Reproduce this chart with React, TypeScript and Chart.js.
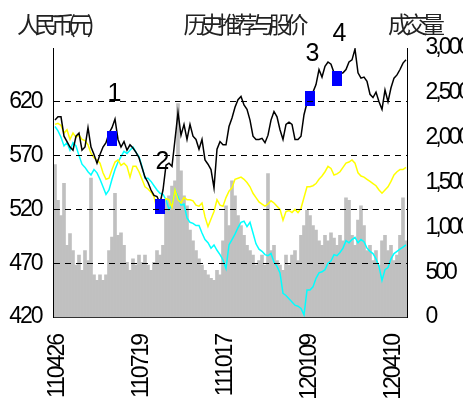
import { useEffect, useRef } from 'react';
import { Chart, registerables } from 'chart.js';

Chart.register(...registerables);

const TITLE_LEFT = '人民币(元)';
const TITLE_MID = '历史推荐与股价';
const TITLE_RIGHT = '成交量';

const TICK_LABELS = ['110426', '110719', '111017', '120109', '120410'];
const TICK_INDEX = [1, 29, 57, 85, 113];

const PRICE = [
  603, 606, 606, 588, 583, 578, 575, 588, 591, 575,
  578, 596, 578, 571, 563, 571, 578, 582, 591, 596,
  604, 585, 578, 583, 575, 580, 577, 573, 568, 559,
  550, 545, 538, 533, 532, 526, 538, 561, 563, 560,
  585, 610, 589, 599, 585, 599, 588, 585, 576, 585,
  566, 562, 557, 540, 576, 583, 580, 580, 597, 605,
  615, 622, 625, 617, 613, 603, 588, 585, 585, 586,
  582, 589, 603, 611, 606, 594, 585, 599, 601, 599,
  585, 585, 588, 608, 619, 625, 629, 636, 650, 643,
  653, 657, 655, 647, 645, 646, 647, 650, 657, 659,
  669, 647, 642, 643, 639, 627, 624, 629, 620, 613,
  631, 620, 633, 642, 645, 650, 656, 659,
];

const INDEX_YELLOW = [
  599, 600, 598, 591, 594, 585, 591, 587, 589, 585,
  584, 580, 572, 568, 566, 563, 554, 548, 549, 557,
  564, 566, 561, 563, 560, 550, 560, 560, 555, 548,
  541, 539, 536, 532, 520, 521, 526, 530, 529, 522,
  538, 529, 526, 531, 529, 529, 528, 524, 523, 526,
  513, 504, 511, 518, 529, 524, 523, 531, 537, 540,
  548, 549, 550, 548, 545, 541, 535, 531, 527, 525,
  523, 525, 528, 526, 523, 520, 510, 518, 519, 517,
  520, 517, 521, 531, 541, 541, 542, 544, 548, 551,
  555, 560, 558, 552, 553, 555, 559, 563, 564, 566,
  563, 554, 551, 550, 548, 546, 544, 542, 538, 535,
  538, 541, 546, 552, 555, 557, 557, 559,
];

const INDEX_CYAN = [
  597, 593, 587, 579, 582, 575, 582, 579, 570, 562,
  559, 555, 552, 557, 554, 548, 541, 534, 538, 548,
  557, 564, 569, 574, 572, 575, 578, 573, 569, 560,
  549, 549, 546, 542, 538, 535, 534, 529, 520, 524,
  538, 532, 524, 525, 512, 508, 507, 505, 505, 498,
  492, 489, 484, 487, 482, 478, 473, 465, 487, 492,
  497, 503, 508, 509, 504, 508, 498, 488, 483, 481,
  478, 477, 479, 471, 467, 461, 442, 440, 437, 434,
  431, 430, 428, 422, 445, 445, 448, 456, 461, 462,
  464, 470, 472, 478, 477, 480, 484, 491, 489, 492,
  494, 489, 492, 490, 484, 481, 479, 474, 467, 454,
  464, 466, 474, 479, 481, 483, 485, 487,
];

const VOLUME = [
  1700, 1300, 1130, 1490, 800, 930, 740, 580, 690, 520,
  740, 630, 1550, 470, 410, 470, 410, 470, 740, 890,
  1380, 910, 940, 800, 610, 520, 650, 580, 690, 610,
  690, 580, 520, 610, 740, 690, 800, 1300, 1350, 1460,
  1520, 2380, 1630, 1350, 1240, 970, 850, 740, 650, 580,
  520, 470, 430, 410, 520, 470, 850, 1240, 1020, 1520,
  1350, 1130, 1020, 910, 800, 740, 690, 580, 630, 690,
  580, 1600, 740, 800, 630, 580, 520, 690, 580, 690,
  740, 630, 910, 1020, 1190, 1130, 1020, 970, 850, 800,
  910, 850, 940, 880, 800, 910, 850, 1330, 1300, 910,
  800, 1080, 1240, 1020, 740, 800, 630, 740, 580, 850,
  910, 740, 800, 630, 690, 910, 1330, 850,
];

const REC_NUM = ['1', '2', '3', '4'];
const REC_INDEX = [19, 35, 85, 94];
const REC_PRICE = [586, 523, 623, 642];

const GRID_VALUES = [470, 520, 570, 620];

const CATEGORIES = PRICE.map((_, i) => {
  const k = TICK_INDEX.indexOf(i);
  return k >= 0 ? TICK_LABELS[k] : '';
});

const MARKERS = PRICE.map((_, i) => {
  const k = REC_INDEX.indexOf(i);
  return k >= 0 ? REC_PRICE[k] : null;
});

const TICK_FONT = { family: 'Liberation Sans', size: 23 };

export default function App() {
  const ref = useRef<HTMLCanvasElement | null>(null);

  useEffect(() => {
    if (!ref.current) return;
    const marker = document.createElement('canvas');
    marker.width = 10;
    marker.height = 15;
    const mctx = marker.getContext('2d');
    if (mctx) {
      mctx.fillStyle = '#0000ff';
      mctx.fillRect(0, 0, 10, 15);
    }

    const textPlugin = {
      id: 'texts',
      beforeDraw(chart: any) {
        // right-axis labels (drawn before datasets) get tighter spacing
        chart.ctx.letterSpacing = '-3px';
      },
      afterDatasetsDraw(chart: any) {
        // left and bottom labels are drawn after datasets
        chart.ctx.letterSpacing = '-2px';
      },
      afterDraw(chart: any) {
        const ctx = chart.ctx;
        ctx.save();
        ctx.letterSpacing = '0px';
        ctx.fillStyle = '#000';
        ctx.font = '25px "Liberation Sans"';
        ctx.textAlign = 'center';
        ctx.textBaseline = 'middle';
        const meta = chart.getDatasetMeta(0);
        REC_INDEX.forEach((idx, k) => {
          const p = meta.data[idx];
          if (p) ctx.fillText(REC_NUM[k], p.x + 2.5, p.y - 44);
        });
        ctx.font = '23px "Noto Sans CJK SC"';
        ctx.letterSpacing = '-6px';
        ctx.fillStyle = '#222';
        ctx.textAlign = 'left';
        ctx.fillText(TITLE_LEFT, 17, 24);
        ctx.textAlign = 'center';
        ctx.fillText(TITLE_MID, 243, 24);
        ctx.textAlign = 'left';
        ctx.fillText(TITLE_RIGHT, 388, 24);
        ctx.restore();
      },
    };

    const chart = new Chart(ref.current, {
      type: 'bar',
      data: {
        labels: CATEGORIES,
        datasets: [
          {
            type: 'line',
            data: MARKERS,
            showLine: false,
            pointStyle: marker,
            pointRadius: 7,
            yAxisID: 'y',
            order: 0,
          } as any,
          {
            type: 'line',
            data: PRICE,
            borderColor: '#000000',
            borderWidth: 1.5,
            pointRadius: 0,
            tension: 0,
            yAxisID: 'y',
            order: 1,
          },
          {
            type: 'line',
            data: INDEX_YELLOW,
            borderColor: '#ffff00',
            borderWidth: 1.5,
            pointRadius: 0,
            tension: 0,
            yAxisID: 'y',
            order: 2,
          },
          {
            type: 'line',
            data: INDEX_CYAN,
            borderColor: '#00ffff',
            borderWidth: 1.5,
            pointRadius: 0,
            tension: 0,
            yAxisID: 'y',
            order: 3,
          },
          {
            type: 'bar',
            data: VOLUME,
            backgroundColor: '#c0c0c0',
            borderWidth: 0,
            barPercentage: 1,
            categoryPercentage: 1,
            yAxisID: 'y1',
            order: 4,
          },
        ],
      },
      options: {
        animation: false,
        responsive: true,
        maintainAspectRatio: false,
        layout: { padding: { top: 48, left: 0, right: 0, bottom: 0 } },
        plugins: {
          legend: { display: false },
          tooltip: { enabled: false },
          title: { display: false },
        },
        scales: {
          x: {
            offset: true,
            grid: { display: false, drawTicks: false },
            border: { color: '#333', width: 1, z: 1 },
            ticks: {
              z: 1,
              autoSkip: false,
              minRotation: 90,
              maxRotation: 90,
              padding: 18,
              color: '#000',
              font: TICK_FONT,
            },
            afterFit: (s: any) => {
              s.height = 83;
            },
          },
          y: {
            position: 'left',
            min: 420,
            max: 670,
            ticks: {
              z: 1,
              stepSize: 50,
              padding: 12,
              color: '#000',
              font: TICK_FONT,
              callback: (v: any) => (Number(v) === 670 ? '' : String(v)),
            },
            grid: {
              z: 1,
              drawTicks: false,
              lineWidth: 1,
              color: (c: any) =>
                c.tick && GRID_VALUES.includes(c.tick.value) ? '#000' : 'rgba(0,0,0,0)',
              borderDash: [6, 5],
            } as any,
            border: { color: '#000', width: 1, dash: [6, 5], z: 1 },
            afterFit: (s: any) => {
              s.width = 53.5;
            },
          },
          y1: {
            position: 'right',
            min: 0,
            max: 3000,
            ticks: {
              z: 0,
              stepSize: 500,
              padding: 10,
              color: '#000',
              font: TICK_FONT,
              callback: (v: any) => Number(v).toLocaleString('en-US'),
            },
            grid: { display: false },
            border: { color: '#000', width: 1, z: 1 },
            afterFit: (s: any) => {
              s.width = 55.5;
            },
          },
        },
      },
      plugins: [textPlugin],
    });

    return () => {
      chart.destroy();
    };
  }, []);

  return (
    <div style={{ position: 'fixed', left: 0, top: 0, width: 463, height: 400 }}>
      <canvas ref={ref} />
    </div>
  );
}
